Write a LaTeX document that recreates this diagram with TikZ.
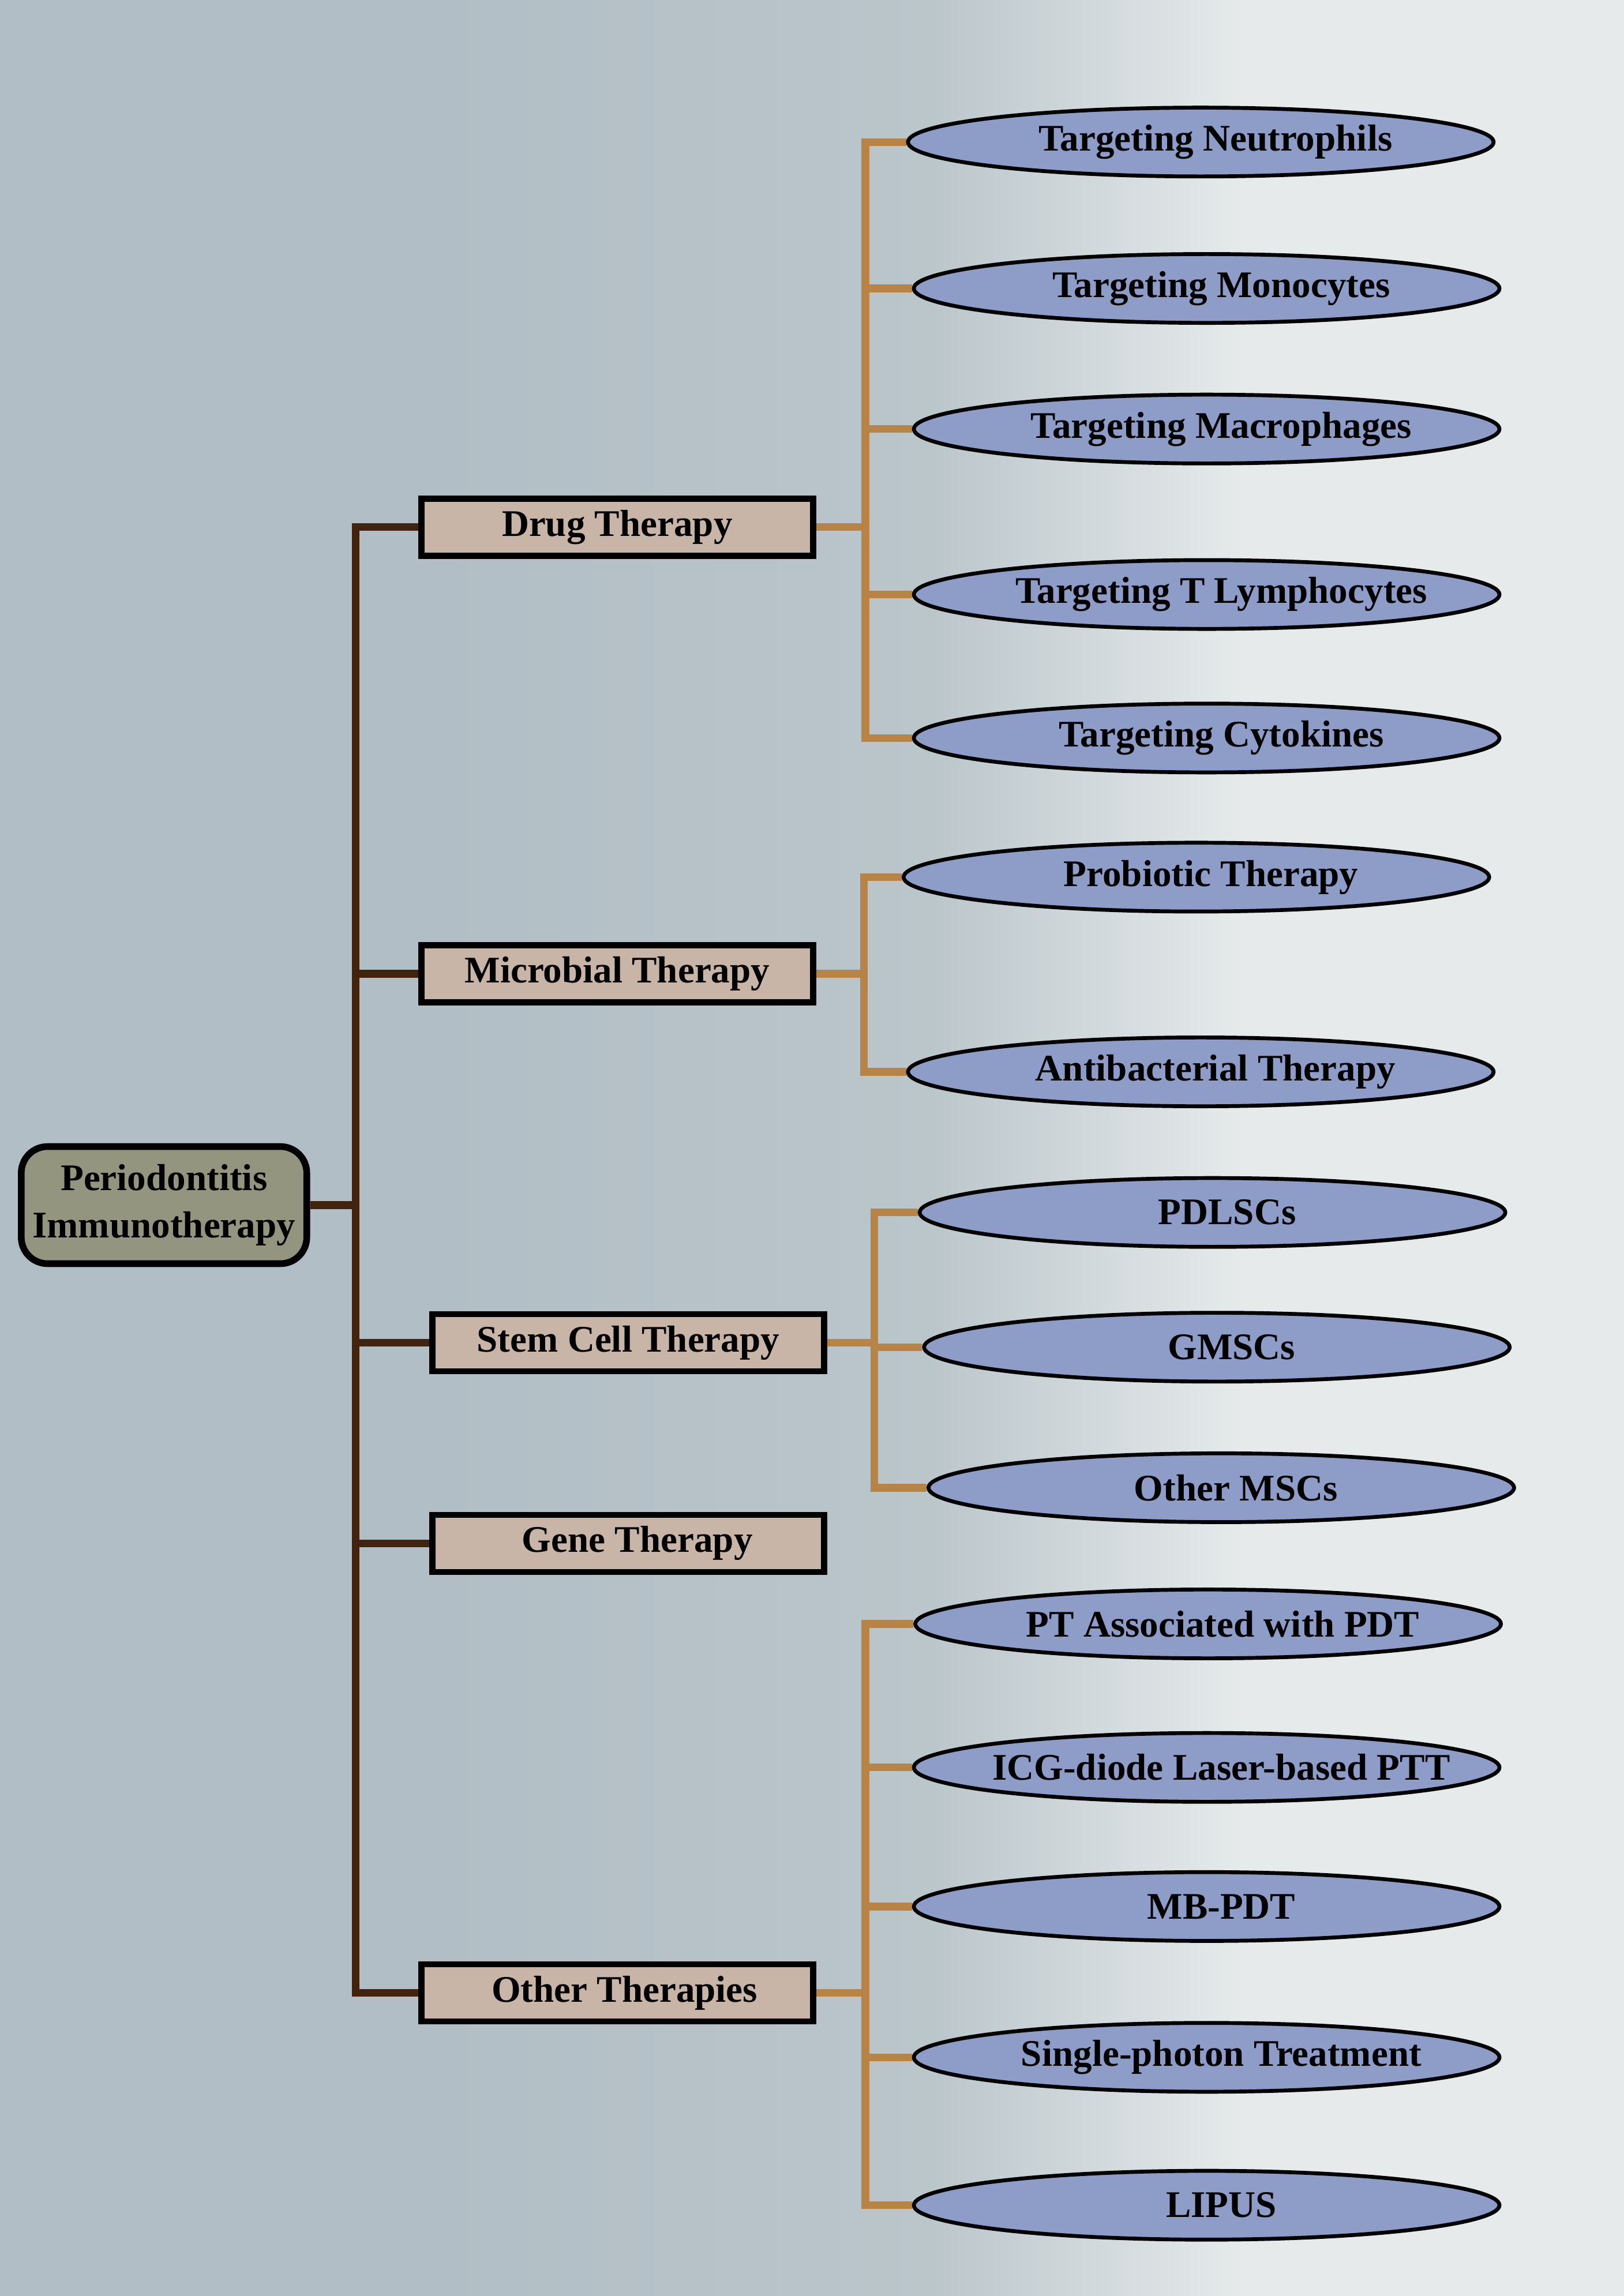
\documentclass[tikz,border=0pt]{standalone}
\usepackage{fontspec}
\setmainfont{Liberation Serif}
\usetikzlibrary{shapes.geometric,backgrounds}
\definecolor{bgleft}{HTML}{B1BEC5}
\definecolor{bgmid}{HTML}{BBC6CB}
\definecolor{bgright}{HTML}{E6EAEB}
\definecolor{rootfill}{HTML}{94957F}
\definecolor{catfill}{HTML}{C9B5A7}
\definecolor{leaffill}{HTML}{8E9DC7}
\definecolor{trunkc}{HTML}{42230F}
\definecolor{branchc}{HTML}{B78445}

\begin{document}
\begin{tikzpicture}[x=0.02cm, y=-0.02cm,
    every node/.style={font=\fontsize{14.6}{18.2}\selectfont\bfseries},
    rnode/.style={draw,line width=2.6pt,rounded corners=0.36cm,fill=rootfill,minimum width=3.9cm,minimum height=1.6cm,align=center,inner sep=2pt},
    cnode/.style={draw,line width=2.4pt,fill=catfill,minimum width=5.35cm,minimum height=0.78cm,inner sep=0pt},
    enode/.style={draw,ellipse,line width=1.5pt,fill=leaffill,minimum width=8cm,minimum height=0.94cm,inner xsep=-1.2cm,inner ysep=0pt,execute at begin node=\hspace{0.4cm}},
    tline/.style={draw=trunkc,line width=3pt},
    bline/.style={draw=branchc,line width=3pt}]
    \useasboundingbox (0,0) rectangle (1109,1568);

    \node[rnode] (root) at (112,823) {Periodontitis\\Immunotherapy};

    \node[cnode] (drug) at (421.5,360) {Drug Therapy};
    \node[cnode] (micro) at (421.5,665) {Microbial Therapy};
    \node[cnode] (stem) at (429,917) {Stem Cell Therapy};
    \node[cnode] (gene) at (429,1054) {\hspace{0.25cm}Gene Therapy};
    \node[cnode] (other) at (421.5,1361) {\hspace{0.2cm}Other Therapies};

    \node[enode] (neu) at (820,97) {Targeting Neutrophils};
    \node[enode] (mono) at (824,197) {Targeting Monocytes};
    \node[enode] (mac) at (824,293) {Targeting Macrophages};
    \node[enode] (tly) at (824,406) {Targeting T Lymphocytes};
    \node[enode] (cyt) at (824,504) {Targeting Cytokines};

    \node[enode] (pro) at (817,599) {Probiotic Therapy};
    \node[enode] (anti) at (820,732) {Antibacterial Therapy};

    \node[enode] (pdl) at (828,828) {PDLSCs};
    \node[enode] (gms) at (831,920) {GMSCs};
    \node[enode] (msc) at (834,1016) {Other MSCs};

    \node[enode] (pt) at (825,1109) {PT Associated with PDT};
    \node[enode] (icg) at (824,1207) {ICG-diode Laser-based PTT};
    \node[enode] (mb) at (824,1302) {MB-PDT};
    \node[enode] (sp) at (824,1405) {Single-photon Treatment};
    \node[enode] (lip) at (824,1506) {LIPUS};

    \coordinate (tk) at (243,0);
    \coordinate (b1) at (591,0);
    \coordinate (b2) at (590,0);
    \coordinate (b3) at (597,0);
    \coordinate (b4) at (591,0);

    \begin{pgfonlayer}{background}
    \fill[bgleft] (0,0) rectangle (298,1568);
    \shade[left color=bgleft,right color=bgmid] (297,0) rectangle (637,1568);
    \shade[left color=bgmid,right color=bgright] (636,0) rectangle (849,1568);
    \fill[bgright] (848,0) rectangle (1109,1568);

    % trunk
    \draw[tline] (root.east) -- (root.east -| tk);
    \draw[tline,line cap=rect] (tk |- drug.west) -- (tk |- other.west);
    \foreach \cat in {drug,micro,stem,gene,other}
        \draw[tline] (\cat.west) -- (\cat.west -| tk);

    % branches
    \draw[bline] (drug.east) -- (drug.east -| b1);
    \draw[bline,line cap=rect] (b1 |- neu.west) -- (b1 |- cyt.west);
    \foreach \leaf in {neu,mono,mac,tly,cyt}
        \draw[bline] (\leaf.west) -- (\leaf.west -| b1);

    \draw[bline] (micro.east) -- (micro.east -| b2);
    \draw[bline,line cap=rect] (b2 |- pro.west) -- (b2 |- anti.west);
    \foreach \leaf in {pro,anti}
        \draw[bline] (\leaf.west) -- (\leaf.west -| b2);

    \draw[bline] (stem.east) -- (stem.east -| b3);
    \draw[bline,line cap=rect] (b3 |- pdl.west) -- (b3 |- msc.west);
    \foreach \leaf in {pdl,gms,msc}
        \draw[bline] (\leaf.west) -- (\leaf.west -| b3);

    \draw[bline] (other.east) -- (other.east -| b4);
    \draw[bline,line cap=rect] (b4 |- pt.west) -- (b4 |- lip.west);
    \foreach \leaf in {pt,icg,mb,sp,lip}
        \draw[bline] (\leaf.west) -- (\leaf.west -| b4);
    \end{pgfonlayer}
\end{tikzpicture}
\end{document}
